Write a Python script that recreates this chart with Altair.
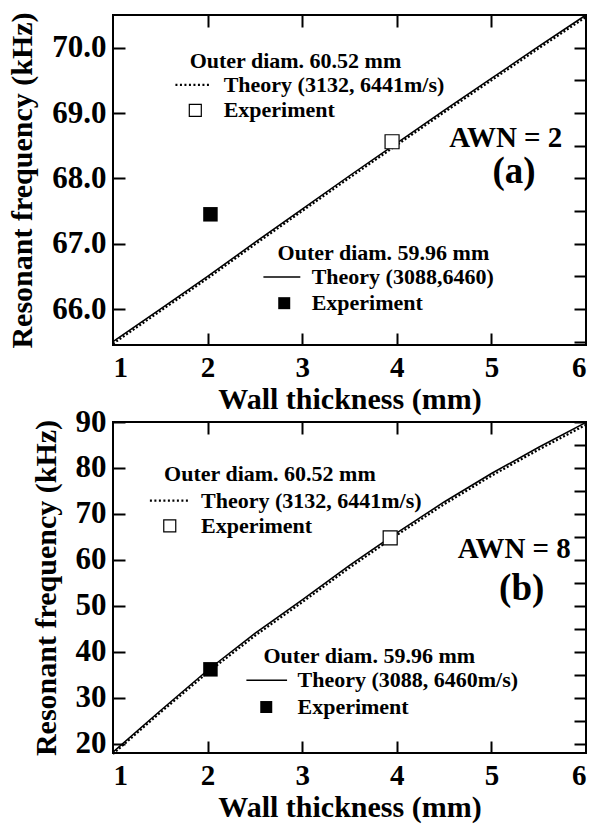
import altair as alt
import pandas as pd

FONT = "Times New Roman, Liberation Serif, DejaVu Serif, serif"
W, H_A, H_B = 473, 330, 331

# ---------------- data ----------------
thickness = [1.0, 1.5, 2.0, 2.5, 3.0, 3.5, 4.0, 4.5, 5.0, 5.5, 6.0]

# panel (a): AWN = 2
a_theory_5996 = [65.50, 66.00, 66.50, 67.02, 67.53, 68.04, 68.54, 69.04, 69.53, 70.02, 70.50]
a_theory_6052 = [65.47, 65.97, 66.47, 66.99, 67.50, 68.01, 68.51, 69.01, 69.50, 69.99, 70.47]
a_exp_6052_x, a_exp_6052_y = [3.95], [68.56]
a_exp_5996_x, a_exp_5996_y = [2.03], [67.45]

# panel (b): AWN = 8
b_theory_5996 = [18.2, 27.2, 36.0, 44.0, 51.3, 58.8, 65.9, 72.6, 78.8, 84.5, 89.9]
b_theory_6052 = [17.8, 26.8, 35.5, 43.5, 50.8, 58.3, 65.4, 72.1, 78.3, 84.0, 89.4]
b_exp_6052_x, b_exp_6052_y = [3.93], [64.8]
b_exp_5996_x, b_exp_5996_y = [2.03], [36.2]

x_ticks = [1, 2, 3, 4, 5, 6]
a_major = [66, 67, 68, 69, 70]
a_minor = [65.5, 66, 66.5, 67, 67.5, 68, 68.5, 69, 69.5, 70]
b_major = [20, 30, 40, 50, 60, 70, 80, 90]
b_minor = [20, 25, 30, 35, 40, 45, 50, 55, 60, 65, 70, 75, 80, 85, 90]

a_text = ["Outer diam. 60.52 mm", "Theory (3132, 6441m/s)", "Experiment",
          "Outer diam. 59.96 mm", "Theory (3088,6460)", "Experiment"]
b_text = ["Outer diam. 60.52 mm", "Theory (3132, 6441m/s)", "Experiment",
          "Outer diam. 59.96 mm", "Theory (3088, 6460m/s)", "Experiment"]


def tick_axis(orient, offset, values):
    return alt.Axis(orient=orient, offset=offset, values=values, labels=False,
                    domain=False, grid=False, ticks=True, tickSize=12,
                    tickWidth=2, tickColor="black", title=None)


def panel(H, ydom, theory_5996, theory_6052, exp_open, exp_fill,
          major, minor, fmt, texts, ann, tag, tag_pos, awn, awn_pos):
    xs = alt.Scale(domain=[1, 6], nice=False, zero=False)
    ys = alt.Scale(domain=ydom, nice=False, zero=False)

    main_x = alt.Axis(orient="bottom", values=x_ticks, format="d", ticks=False,
                      domain=False, grid=False, labelFont=FONT, labelFontSize=29,
                      labelFontWeight="bold", labelColor="black", labelPadding=8,
                      title="Wall thickness (mm)", titleFont=FONT, titleFontSize=30,
                      titleFontWeight="bold", titleColor="black", titlePadding=2)
    main_y = alt.Axis(orient="left", values=major, format=fmt, ticks=False,
                      domain=False, grid=False, labelFont=FONT, labelFontSize=31,
                      labelFontWeight="bold", labelColor="black", labelPadding=7,
                      title="Resonant frequency (kHz)", titleFont=FONT,
                      titleFontSize=30, titleFontWeight="bold", titleColor="black",
                      titlePadding=14)

    df5996 = pd.DataFrame({"x": thickness, "y": theory_5996})
    df6052 = pd.DataFrame({"x": thickness, "y": theory_6052})

    solid = alt.Chart(df5996).mark_line(color="black", strokeWidth=1.5).encode(
        x=alt.X("x:Q", scale=xs, axis=main_x),
        y=alt.Y("y:Q", scale=ys, axis=main_y),
    )
    dotted = alt.Chart(df6052).mark_line(color="black", strokeWidth=2.2,
                                         strokeDash=[2, 2]).encode(
        x=alt.X("x:Q", scale=xs, axis=tick_axis("top", -H, [2, 3, 4, 5])),
        y=alt.Y("y:Q", scale=ys, axis=tick_axis("right", -W, major)),
    )
    open_df = pd.DataFrame({"x": exp_open[0], "y": exp_open[1]})
    fill_df = pd.DataFrame({"x": exp_fill[0], "y": exp_fill[1]})
    open_sq = alt.Chart(open_df).mark_square(size=196, filled=True, fill="white",
                                             stroke="black", strokeWidth=1.2,
                                             opacity=1).encode(
        x=alt.X("x:Q", scale=xs, axis=tick_axis("bottom", -H, [2, 3, 4, 5])),
        y=alt.Y("y:Q", scale=ys, axis=tick_axis("left", -W, minor)),
    )
    fill_sq = alt.Chart(fill_df).mark_square(size=210, filled=True,
                                             color="black", opacity=1).encode(
        x=alt.X("x:Q", scale=xs, axis=None),
        y=alt.Y("y:Q", scale=ys, axis=None),
    )

    # legend-like annotations
    (tx1, ty1), (tx2, ty2), (tx3, ty3), (tx4, ty4), (tx5, ty5), (tx6, ty6), \
        (lx1a, lx1b), (sqx1,), (lx2a, lx2b), (sqx2,) = ann
    txt_df = pd.DataFrame({"x": [tx1, tx2, tx3, tx4, tx5, tx6],
                           "y": [ty1, ty2, ty3, ty4, ty5, ty6],
                           "t": texts})
    txt = alt.Chart(txt_df).mark_text(font=FONT, fontSize=22, fontWeight="bold",
                                      align="left", baseline="middle",
                                      color="black").encode(
        x=alt.X("x:Q", scale=xs, axis=None),
        y=alt.Y("y:Q", scale=ys, axis=None),
        text="t:N",
    )
    seg_dot = alt.Chart(pd.DataFrame({"x": [lx1a], "x2": [lx1b], "y": [ty2]})).mark_rule(
        color="black", strokeWidth=2.2, strokeDash=[2, 2.5]).encode(
        x=alt.X("x:Q", scale=xs, axis=None), x2="x2:Q",
        y=alt.Y("y:Q", scale=ys, axis=None))
    seg_sol = alt.Chart(pd.DataFrame({"x": [lx2a], "x2": [lx2b], "y": [ty5]})).mark_rule(
        color="black", strokeWidth=1.5).encode(
        x=alt.X("x:Q", scale=xs, axis=None), x2="x2:Q",
        y=alt.Y("y:Q", scale=ys, axis=None))
    leg_open = alt.Chart(pd.DataFrame({"x": [sqx1], "y": [ty3]})).mark_square(
        size=144, filled=True, fill="white", stroke="black", strokeWidth=1.2,
        opacity=1).encode(
        x=alt.X("x:Q", scale=xs, axis=None), y=alt.Y("y:Q", scale=ys, axis=None))
    leg_fill = alt.Chart(pd.DataFrame({"x": [sqx2], "y": [ty6]})).mark_square(
        size=144, filled=True, color="black", opacity=1).encode(
        x=alt.X("x:Q", scale=xs, axis=None), y=alt.Y("y:Q", scale=ys, axis=None))

    awn_t = alt.Chart(pd.DataFrame({"x": [awn_pos[0]], "y": [awn_pos[1]], "t": [awn]})).mark_text(
        font=FONT, fontSize=29, fontWeight="bold", align="right", baseline="middle",
        color="black").encode(
        x=alt.X("x:Q", scale=xs, axis=None), y=alt.Y("y:Q", scale=ys, axis=None), text="t:N")
    tag_t = alt.Chart(pd.DataFrame({"x": [tag_pos[0]], "y": [tag_pos[1]], "t": [tag]})).mark_text(
        font=FONT, fontSize=37, fontWeight="bold", align="center", baseline="middle",
        color="black").encode(
        x=alt.X("x:Q", scale=xs, axis=None), y=alt.Y("y:Q", scale=ys, axis=None), text="t:N")

    return alt.layer(solid, dotted, open_sq, fill_sq, txt, seg_dot, seg_sol,
                     leg_open, leg_fill, awn_t, tag_t).resolve_axis(
        x="independent", y="independent").properties(width=W, height=H)


ann_a = [(1.81, 69.80), (2.17, 69.43), (2.17, 69.04),
         (2.74, 66.86), (3.10, 66.49), (3.10, 66.09),
         (1.66, 2.03), (1.87,), (2.59, 2.98), (2.81,)]
ann_b = [(1.54, 78.6), (1.93, 72.9), (1.93, 67.4),
         (2.59, 39.2), (2.95, 33.8), (2.95, 28.0),
         (1.39, 1.80), (1.60,), (2.41, 2.84), (2.62,)]

top = panel(H_A, [65.45, 70.5], a_theory_5996, a_theory_6052,
            (a_exp_6052_x, a_exp_6052_y), (a_exp_5996_x, a_exp_5996_y),
            a_major, a_minor, ".1f", a_text, ann_a, "(a)", (5.24, 68.1),
            "AWN = 2", (5.75, 68.62))
bottom = panel(H_B, [18, 90], b_theory_5996, b_theory_6052,
               (b_exp_6052_x, b_exp_6052_y), (b_exp_5996_x, b_exp_5996_y),
               b_major, b_minor, "d", b_text, ann_b, "(b)", (5.32, 53.7),
               "AWN = 8", (5.84, 62.3))

chart = alt.vconcat(top, bottom, spacing=77, bounds="flush").properties(
    padding={"left": 6, "top": 10, "right": 5, "bottom": 5}
).configure_view(stroke="black", strokeWidth=2)

chart.save("out.html", embed_options={"renderer": "svg", "actions": False})
